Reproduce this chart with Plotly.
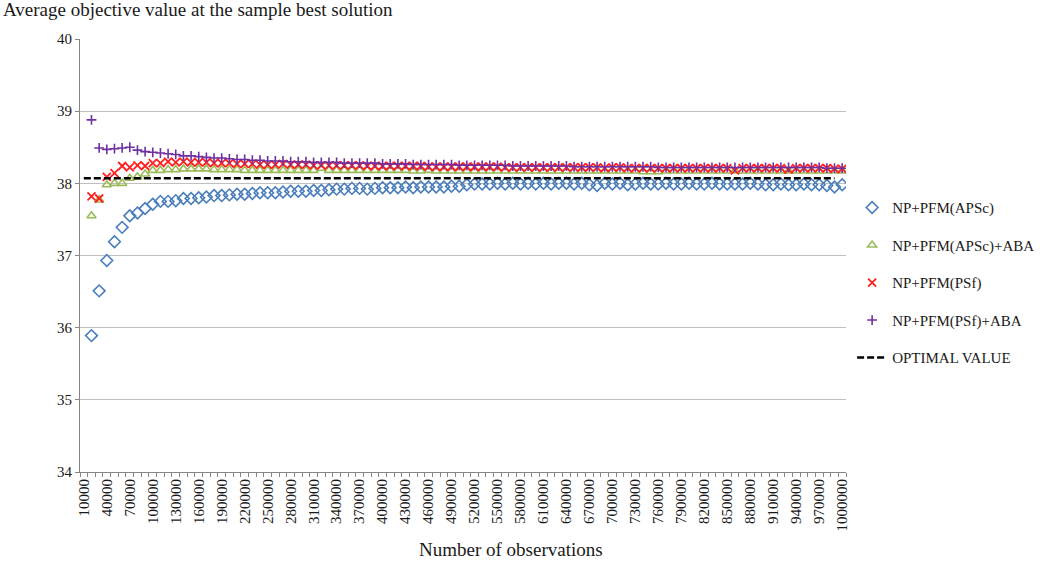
import plotly.graph_objects as go

# Category axis: number of observations, 10,000 to 1,000,000 in steps of 10,000
categories = [str(n) for n in range(10000, 1000001, 10000)]
label_every = 3

# Series start at 20000 (one row of values per 100,000 block)
series_x = categories[1:]

apsc = [
    35.89, 36.51, 36.93, 37.19, 37.39, 37.55, 37.59, 37.65, 37.71,
    37.75, 37.75, 37.76, 37.79, 37.79, 37.80, 37.81, 37.83, 37.83, 37.84,
    37.85, 37.85, 37.86, 37.87, 37.87, 37.87, 37.88, 37.89, 37.89, 37.89,
    37.90, 37.90, 37.91, 37.92, 37.92, 37.93, 37.93, 37.92, 37.93, 37.94,
    37.94, 37.94, 37.95, 37.94, 37.95, 37.95, 37.95, 37.95, 37.96, 37.96,
    37.98, 37.99, 37.99, 37.99, 38.00, 37.99, 38.00, 37.99, 38.00, 37.99,
    38.00, 37.99, 38.00, 38.00, 37.99, 38.00, 37.98, 37.97, 38.00, 37.99,
    38.00, 37.98, 37.99, 38.00, 37.99, 37.99, 38.00, 37.99, 37.99, 38.00,
    37.99, 37.99, 38.00, 37.99, 37.99, 37.99, 37.99, 38.00, 37.99, 37.98,
    37.98, 37.99, 37.98, 37.98, 37.99, 37.98, 37.98, 37.97, 37.95, 37.98,
]

apsc_aba = [
    37.55, 37.77, 37.98, 38.00, 38.00, 38.07, 38.09, 38.13, 38.18,
    38.18, 38.19, 38.19, 38.20, 38.20, 38.20, 38.20, 38.19, 38.19, 38.19,
    38.19, 38.18, 38.18, 38.18, 38.18, 38.18, 38.18, 38.18, 38.18, 38.18,
    38.18, 38.21, 38.18, 38.18, 38.18, 38.18, 38.18, 38.18, 38.18, 38.18,
    38.18, 38.18, 38.18, 38.17, 38.17, 38.18, 38.17, 38.17, 38.17, 38.17,
    38.17, 38.17, 38.17, 38.17, 38.17, 38.17, 38.17, 38.17, 38.17, 38.17,
    38.17, 38.17, 38.17, 38.17, 38.17, 38.17, 38.17, 38.17, 38.17, 38.17,
    38.17, 38.17, 38.17, 38.16, 38.16, 38.16, 38.17, 38.17, 38.17, 38.17,
    38.17, 38.17, 38.17, 38.17, 38.17, 38.17, 38.17, 38.17, 38.17, 38.17,
    38.17, 38.17, 38.17, 38.17, 38.17, 38.17, 38.17, 38.17, 38.17, 38.17,
]

psf = [
    37.82, 37.79, 38.09, 38.14, 38.24, 38.22, 38.25, 38.24, 38.28,
    38.28, 38.30, 38.29, 38.30, 38.29, 38.29, 38.29, 38.28, 38.28, 38.28,
    38.27, 38.27, 38.27, 38.26, 38.26, 38.26, 38.27, 38.26, 38.26, 38.26,
    38.25, 38.25, 38.25, 38.25, 38.25, 38.25, 38.25, 38.24, 38.24, 38.24,
    38.24, 38.24, 38.24, 38.24, 38.24, 38.23, 38.23, 38.23, 38.23, 38.23,
    38.23, 38.23, 38.23, 38.23, 38.23, 38.22, 38.22, 38.22, 38.22, 38.22,
    38.22, 38.22, 38.22, 38.22, 38.22, 38.22, 38.22, 38.22, 38.21, 38.22,
    38.22, 38.21, 38.21, 38.21, 38.21, 38.21, 38.21, 38.21, 38.21, 38.21,
    38.21, 38.21, 38.21, 38.21, 38.21, 38.18, 38.21, 38.21, 38.21, 38.21,
    38.21, 38.21, 38.19, 38.21, 38.21, 38.21, 38.21, 38.21, 38.20, 38.20,
]

psf_aba = [
    38.88, 38.49, 38.47, 38.48, 38.49, 38.50, 38.46, 38.44, 38.43,
    38.42, 38.41, 38.40, 38.38, 38.38, 38.37, 38.36, 38.35, 38.35, 38.34,
    38.33, 38.33, 38.32, 38.32, 38.31, 38.31, 38.31, 38.30, 38.30, 38.30,
    38.29, 38.29, 38.29, 38.29, 38.28, 38.28, 38.28, 38.28, 38.28, 38.27,
    38.27, 38.27, 38.27, 38.26, 38.26, 38.26, 38.26, 38.26, 38.26, 38.25,
    38.25, 38.25, 38.25, 38.25, 38.25, 38.25, 38.24, 38.24, 38.24, 38.24,
    38.24, 38.24, 38.24, 38.24, 38.23, 38.23, 38.23, 38.23, 38.23, 38.23,
    38.23, 38.23, 38.23, 38.23, 38.23, 38.22, 38.22, 38.22, 38.22, 38.22,
    38.22, 38.22, 38.22, 38.22, 38.22, 38.22, 38.22, 38.22, 38.22, 38.22,
    38.22, 38.22, 38.22, 38.22, 38.22, 38.22, 38.22, 38.21, 38.21, 38.21,
]

# Reference optimum, drawn across 10000..990000
optimal_value = 38.07
optimal_x = categories[:-1]

series_names = [
    "NP+PFM(APSc)",
    "NP+PFM(APSc)+ABA",
    "NP+PFM(PSf)",
    "NP+PFM(PSf)+ABA",
]

FONT = "Liberation Serif"
TEXT = "#1a1a1a"

fig = go.Figure()

marker_styles = [
    dict(symbol="diamond-open", size=9, color="#4A7EBB", line=dict(width=1.6, color="#4A7EBB")),
    dict(symbol="triangle-up-open", size=8, color="#9BBB59", line=dict(width=1.6, color="#9BBB59")),
    dict(symbol="x-thin-open", size=8, color="#FF1F1F", line=dict(width=1.8, color="#FF1F1F")),
    dict(symbol="cross-thin-open", size=7, color="#7030A0", line=dict(width=1.6, color="#7030A0")),
]

for i, (name, values, mk) in enumerate(zip(series_names, [apsc, apsc_aba, psf, psf_aba], marker_styles)):
    fig.add_trace(go.Scatter(
        x=series_x, y=values, name=name, mode="markers",
        marker=mk, legendgroup=f"g{i}",
    ))

fig.add_trace(go.Scatter(
    x=optimal_x, y=[optimal_value] * len(optimal_x), name="OPTIMAL VALUE",
    mode="lines", line=dict(color="#000000", width=2.5, dash="7px,3px"),
    legendgroup="g4",
))

tick_text = [c if i % label_every == 0 else "" for i, c in enumerate(categories)]

fig.update_layout(
    width=1040, height=566,
    margin=dict(l=80, r=194, t=39, b=94, autoexpand=False),
    paper_bgcolor="white", plot_bgcolor="white",
    font=dict(family=FONT, color=TEXT, size=15),
    showlegend=True,
    legend=dict(
        x=1.008, xanchor="left", xref="paper",
        y=0.437, yanchor="middle",
        font=dict(family=FONT, size=15, color=TEXT),
        tracegroupgap=15, itemwidth=30,
        bgcolor="rgba(0,0,0,0)",
    ),
    xaxis=dict(
        type="category", categoryorder="array", categoryarray=categories,
        range=[-0.5, len(categories) - 0.5],
        tickmode="array", tickvals=categories, ticktext=tick_text,
        tickangle=-90, tickson="boundaries",
        ticks="outside", ticklen=4, tickcolor="#868686",
        showline=True, linecolor="#868686", linewidth=1,
        showgrid=False, zeroline=False,
        tickfont=dict(family=FONT, size=15, color=TEXT),
    ),
    yaxis=dict(
        range=[34, 40], dtick=1, tick0=34,
        ticks="outside", ticklen=4, tickcolor="#868686",
        showline=True, linecolor="#868686", linewidth=1,
        showgrid=True, gridcolor="#BFBFBF", gridwidth=1,
        zeroline=False,
        tickfont=dict(family=FONT, size=15, color=TEXT),
    ),
    annotations=[
        dict(text="Average objective value at the sample best solution",
             xref="paper", yref="paper", x=-0.1031, y=1.067,
             xanchor="left", yanchor="middle", showarrow=False,
             font=dict(family=FONT, size=19, color=TEXT)),
        dict(text="Number of observations",
             xref="paper", yref="paper", x=0.5627, y=-0.178,
             xanchor="center", yanchor="middle", showarrow=False,
             font=dict(family=FONT, size=19, color=TEXT)),
    ],
)

fig.write_html("out.html")
